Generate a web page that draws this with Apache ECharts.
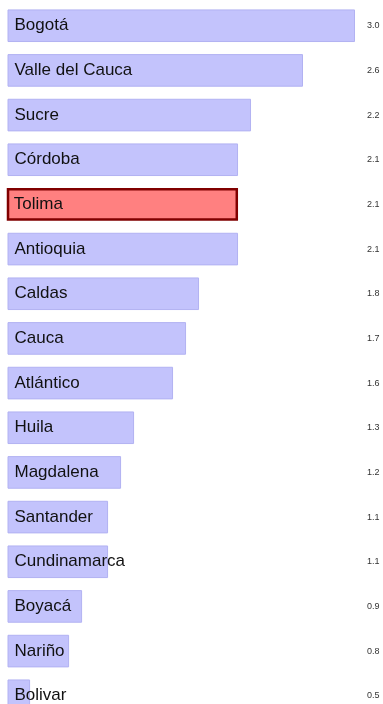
<!DOCTYPE html>
<html>
<head>
<meta charset="utf-8">
<style>
  html, body { margin: 0; padding: 0; background: #ffffff; overflow: hidden; }
  #chart { width: 383px; height: 720px; }
</style>
<script src="https://cdn.jsdelivr.net/npm/echarts@6/dist/echarts.min.js"></script>
</head>
<body>
<div id="chart"></div>
<script>
// Departments ranked by value, top to bottom
const departments = ['Bogotá', 'Valle del Cauca', 'Sucre', 'Córdoba', 'Tolima', 'Antioquia',
  'Caldas', 'Cauca', 'Atlántico', 'Huila', 'Magdalena', 'Santander', 'Cundinamarca',
  'Boyacá', 'Nariño', 'Bolivar'];
const values = [3.0, 2.6, 2.2, 2.1, 2.1, 2.1, 1.8, 1.7, 1.6, 1.3, 1.2, 1.1, 1.1, 0.9, 0.8, 0.5];
const highlighted = 'Tolima';

const baseFill = '#c3c3fc';
const baseBorder = '#b2b2f2';

const barData = values.map((v, i) => {
  const isHi = departments[i] === highlighted;
  return {
    value: v,
    itemStyle: isHi
      ? { color: '#ff8080', borderColor: '#800000', borderWidth: 2.5 }
      : { color: baseFill, borderColor: baseBorder, borderWidth: 1 }
  };
});

// The last row runs past the bottom edge of the visible page
const chart = echarts.init(document.getElementById('chart'), null, { renderer: 'canvas' });
chart.setOption({
  animation: false,
  backgroundColor: '#ffffff',
  grid: { left: 8, top: 3.4, width: 347, height: 714.7, containLabel: false },
  xAxis: {
    type: 'value', min: 0.33, max: 3.0,
    show: false
  },
  yAxis: [
    {
      type: 'category', data: departments, inverse: true,
      axisLine: { show: false }, axisTick: { show: false }, axisLabel: { show: false }
    },
    {
      type: 'category', data: values.map(v => v.toFixed(1)), inverse: true,
      position: 'right',
      axisLine: { show: false }, axisTick: { show: false }, splitLine: { show: false },
      axisLabel: {
        margin: 12, fontSize: 9, color: '#333333',
        fontFamily: 'Liberation Sans, Arial, sans-serif'
      }
    }
  ],
  series: [{
    type: 'bar',
    yAxisIndex: 0,
    data: barData,
    barCategoryGap: '27%',
    label: {
      show: true, position: 'insideLeft', distance: 7,
      formatter: '{b}', color: '#111111', fontSize: 17,
      fontFamily: 'Liberation Sans, Arial, sans-serif'
    }
  }]
});
</script>
</body>
</html>
